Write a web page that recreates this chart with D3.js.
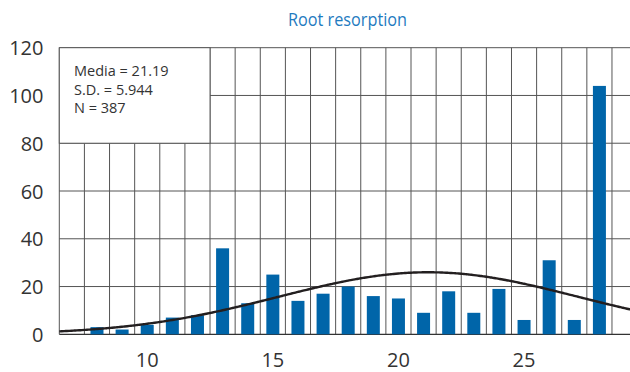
<!DOCTYPE html>
<html>
<head>
<meta charset="utf-8">
<script src="https://cdn.jsdelivr.net/npm/d3@7"></script>
<style>
  html, body { margin: 0; padding: 0; background: #fff; }
  svg { display: block; }
  text { font-family: "Open Sans", "Noto Sans", sans-serif; }
</style>
</head>
<body>
<svg id="chart" width="630" height="372"></svg>
<script>
// Histogram of root resorption scores with fitted normal curve
const scores = [8, 9, 10, 11, 12, 13, 14, 15, 16, 17, 18, 19, 20, 21, 22, 23, 24, 25, 26, 27, 28];
const counts = [3, 2, 4, 7, 8, 36, 13, 25, 14, 17, 20, 16, 15, 9, 18, 9, 19, 6, 31, 6, 104];
const yTicks = [0, 20, 40, 60, 80, 100, 120];
const xTicks = [10, 15, 20, 25];
const stats = { mean: 21.19, sd: 5.944, n: 387 };
const statLines = ["Media = 21.19", "S.D. = 5.944", "N = 387"];
const title = "Root resorption";

const svg = d3.select("#chart");

const x = d3.scaleLinear().domain([6.5, 29.5]).range([59.3, 637.1]);
const y = d3.scaleLinear().domain([0, 120]).range([334.3, 47.7]);

const gridColor = "#555";

// vertical grid lines at bin edges
const edges = d3.range(6.5, 30, 1);
svg.append("g").selectAll("line").data(edges).join("line")
  .attr("x1", d => x(d)).attr("x2", d => x(d))
  .attr("y1", y(120)).attr("y2", y(0))
  .attr("stroke", gridColor).attr("stroke-width", 1);

// horizontal grid lines
svg.append("g").selectAll("line").data(yTicks).join("line")
  .attr("x1", x(6.5)).attr("x2", 630)
  .attr("y1", d => y(d)).attr("y2", d => y(d))
  .attr("stroke", d => d === 0 ? "#333" : gridColor).attr("stroke-width", d => d === 0 ? 1.3 : 1);

// statistics box
svg.append("rect")
  .attr("x", x(6.5)).attr("y", y(120))
  .attr("width", x(12.5) - x(6.5)).attr("height", y(80) - y(120))
  .attr("fill", "#fff").attr("stroke", gridColor).attr("stroke-width", 1);

svg.append("g").selectAll("text").data(statLines).join("text")
  .attr("x", 74).attr("y", (d, i) => 76 + i * 18.7)
  .attr("font-size", 14.5).attr("fill", "#333")
  .text(d => d);

// bars
const barW = 13;
svg.append("g").selectAll("rect").data(scores).join("rect")
  .attr("x", (d) => x(d) - barW / 2)
  .attr("width", barW)
  .attr("y", (d, i) => y(counts[i]))
  .attr("height", (d, i) => y(0) - y(counts[i]))
  .attr("fill", "#0065a9");

// normal curve scaled to counts per unit bin
const pdf = v => stats.n / (stats.sd * Math.sqrt(2 * Math.PI)) *
  Math.exp(-0.5 * Math.pow((v - stats.mean) / stats.sd, 2));
const curveX = d3.range(6.5, 29.55, 0.1);
svg.append("path")
  .datum(curveX)
  .attr("d", d3.line().x(v => x(v)).y(v => y(pdf(v))).curve(d3.curveBasis))
  .attr("fill", "none").attr("stroke", "#231f20").attr("stroke-width", 2.4);

// y axis labels
svg.append("g").selectAll("text").data(yTicks).join("text")
  .attr("x", 43.5).attr("y", d => y(d) + 7.5)
  .attr("text-anchor", "end").attr("font-size", 20).attr("fill", "#333")
  .text(d => d);

// x axis labels
svg.append("g").selectAll("text").data(xTicks).join("text")
  .attr("x", d => x(d)).attr("y", 366.5)
  .attr("text-anchor", "middle").attr("font-size", 20).attr("fill", "#333")
  .text(d => d);

// title
svg.append("text")
  .attr("x", 347.5).attr("y", 26)
  .attr("text-anchor", "middle").attr("font-size", 19).attr("fill", "#1f7bbf")
  .attr("textLength", 119).attr("lengthAdjust", "spacingAndGlyphs")
  .text(title);
</script>
</body>
</html>
